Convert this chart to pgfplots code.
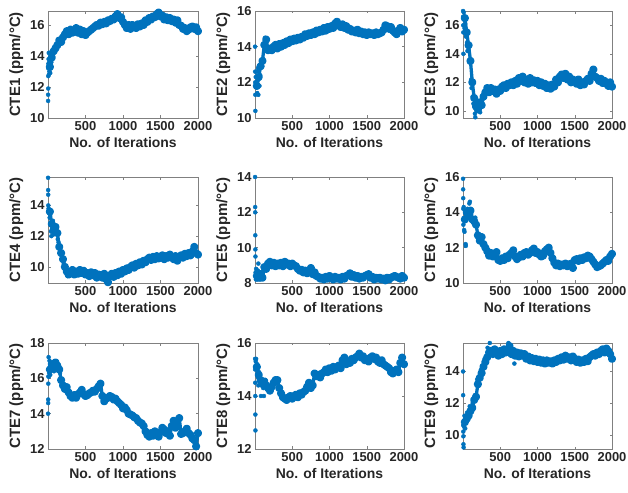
\documentclass[border=0pt]{standalone}
\usepackage{pgfplots}
\pgfplotsset{compat=1.18}
\usepackage{pgfplotstable}
\usepackage{fontspec}
\setmainfont{Liberation Sans}
\definecolor{mblue}{rgb}{0,0.447,0.741}

\pgfplotstableread{
x c1 c2 c3 c4 c5 c6 c7 c8 c9
25 13.3 11.8 16.5 13.6 8.4 13.6 16.5 15.1 10.8
50 13.9 12.3 15.5 12.8 8.3 14.0 16.8 14.8 11.0
75 14.3 12.9 14.6 12.4 8.5 13.8 16.6 14.6 11.2
100 14.5 13.2 13.5 12.6 8.3 14.1 16.9 14.45 11.5
125 14.7 14.1 12.0 12.2 8.9 13.6 16.7 14.55 11.7
150 15.0 14.4 10.9 11.3 8.8 13.5 16.5 14.4 12.2
175 14.9 13.8 10.3 10.9 9.1 13.3 15.9 14.3 12.4
200 15.2 13.9 10.1 10.5 9.2 12.7 15.6 14.2 13.2
225 15.4 13.8 10.6 10.0 9.0 12.4 15.4 14.35 13.6
250 15.6 14.0 10.4 9.7 9.15 12.6 15.5 14.5 13.9
275 15.4 14.1 11.0 9.5 8.95 12.2 15.2 14.6 14.3
300 15.7 13.9 11.3 9.6 9.1 12.0 15.0 14.6 14.6
325 15.5 14.15 11.6 9.8 9.0 11.8 14.9 14.3 14.9
350 15.6 14.0 11.3 9.5 9.15 11.55 15.05 14.1 15.2
375 15.8 14.2 11.6 9.7 8.95 11.7 14.9 13.95 15.3
400 15.5 14.1 11.4 9.55 9.2 11.5 15.1 13.9 15.1
425 15.7 14.3 11.5 9.8 9.05 11.6 15.2 13.85 15.4
450 15.4 14.2 11.2 9.6 9.1 11.75 15.35 13.95 15.2
475 15.6 14.4 11.5 9.75 8.95 11.3 15.1 14.0 15.0
500 15.35 14.3 11.4 9.5 9.1 11.25 15.0 13.9 15.3
525 15.5 14.45 11.7 9.6 9.0 11.4 15.05 14.0 15.1
550 15.6 14.35 11.8 9.4 8.95 11.3 15.15 14.05 15.4
575 15.7 14.5 11.6 9.65 8.8 11.5 15.2 13.95 15.2
600 15.8 14.4 11.9 9.45 8.7 11.4 15.3 14.1 15.3
625 15.9 14.55 11.8 9.6 8.75 11.6 15.25 14.05 15.6
650 16.0 14.5 12.0 9.3 8.6 11.7 15.4 14.15 15.1
675 15.95 14.7 11.8 9.5 8.7 11.85 15.55 14.2 15.3
700 16.15 14.6 12.1 9.45 8.55 11.5 15.7 14.35 15.0
725 16.05 14.75 11.9 9.3 8.7 11.35 15.0 14.5 15.2
750 16.2 14.65 12.3 9.55 8.85 11.45 14.7 14.3 14.95
775 16.1 14.8 12.1 9.2 8.5 11.6 14.85 14.4 15.15
800 16.3 14.7 12.4 9.0 8.6 11.5 14.9 14.85 15.0
825 16.25 14.9 12.0 9.4 8.4 11.7 15.0 14.75 15.1
850 16.4 14.8 12.2 9.55 8.35 11.75 14.95 14.8 14.8
875 16.35 14.95 11.9 9.35 8.25 11.6 14.8 14.7 14.95
900 16.55 14.85 12.3 9.6 8.3 11.7 14.85 14.85 14.7
925 16.7 15.05 12.0 9.45 8.2 11.85 14.7 14.9 14.85
950 16.45 14.9 12.15 9.7 8.35 11.95 14.6 15.0 14.65
975 16.5 15.1 11.95 9.55 8.25 11.7 14.5 14.9 14.8
1000 16.2 15.0 12.1 9.8 8.4 11.75 14.3 15.05 14.6
1025 16.0 15.15 11.8 9.7 8.3 11.6 14.35 14.95 14.75
1050 15.8 15.05 12.0 9.9 8.2 11.5 14.2 15.1 14.55
1075 16.0 15.3 11.75 9.8 8.35 11.55 14.0 15.0 14.7
1100 15.75 15.4 11.9 10.0 8.25 11.8 13.95 15.1 14.5
1125 16.0 15.2 11.6 10.1 8.3 11.9 13.9 15.15 14.7
1150 15.9 15.1 11.8 9.95 8.2 12.0 13.8 15.05 14.55
1175 15.8 15.25 11.55 10.2 8.35 11.7 13.75 15.35 14.65
1200 16.05 15.05 11.85 10.1 8.25 11.4 13.6 15.45 14.5
1225 15.9 15.15 11.7 10.3 8.4 11.15 13.5 15.2 14.7
1250 16.1 14.95 12.2 10.15 8.45 11.0 13.45 15.3 14.6
1275 16.0 15.0 12.0 10.4 8.55 11.1 13.3 15.25 14.8
1300 16.3 14.85 12.4 10.3 8.35 10.95 13.0 15.4 14.7
1325 16.2 14.9 12.55 10.5 8.45 11.05 12.8 15.35 14.9
1350 16.45 14.8 12.3 10.6 8.3 11.0 12.7 15.45 14.75
1375 16.35 14.95 12.6 10.45 8.4 11.1 12.9 15.5 15.0
1400 16.55 14.75 12.2 10.65 8.25 10.95 12.75 15.6 14.8
1425 16.5 14.85 12.4 10.5 8.35 11.05 13.0 15.45 14.9
1450 16.7 14.7 12.0 10.7 8.3 11.1 12.9 15.5 14.7
1475 16.8 14.8 12.2 10.55 8.4 10.85 12.7 15.35 14.95
1500 16.55 14.65 12.1 10.6 8.45 11.3 12.95 15.4 14.8
1525 16.6 14.8 11.9 10.75 8.5 11.35 13.2 15.3 14.6
1550 16.35 14.7 12.2 10.5 8.3 11.25 13.1 15.45 14.75
1575 16.5 14.75 11.8 10.7 8.35 11.4 12.9 15.5 14.55
1600 16.3 14.65 12.0 10.6 8.2 11.3 13.0 15.4 14.7
1625 16.45 14.8 11.85 10.8 8.3 11.45 12.75 15.45 14.6
1650 16.25 14.7 12.1 10.65 8.25 11.4 13.3 15.3 14.8
1675 16.35 14.75 12.25 10.5 8.3 11.55 13.6 15.25 14.65
1700 16.15 14.8 12.1 10.7 8.2 11.5 13.2 15.35 14.9
1725 16.3 14.95 12.6 10.4 8.25 11.35 13.3 15.2 15.0
1750 16.0 15.2 12.9 10.6 8.15 11.2 13.75 15.15 15.1
1775 15.95 15.15 12.4 10.75 8.3 11.05 12.85 15.1 15.0
1800 15.75 15.0 12.3 10.6 8.2 10.9 12.9 15.05 15.2
1825 15.8 15.1 12.1 10.85 8.3 10.95 13.0 14.9 15.1
1850 15.6 14.9 12.25 10.7 8.35 11.0 13.15 14.85 15.3
1875 15.7 14.8 11.95 10.9 8.4 11.1 12.9 14.95 15.4
1900 15.85 14.7 12.1 10.75 8.35 11.2 12.8 15.0 15.2
1925 15.9 14.9 11.9 11.0 8.3 11.3 12.6 14.9 15.45
1950 15.75 15.05 11.75 11.3 8.25 11.25 12.5 15.25 15.3
1975 15.85 14.85 12.0 10.9 8.4 11.5 12.15 15.45 15.1
2000 15.6 14.95 11.7 10.8 8.3 11.65 12.9 15.2 14.8
}\maintbl

\pgfplotsset{
  dots/.style={only marks, mark=*, mark size=2.0bp, color=mblue, mark options={draw=none, fill=mblue}},
  band/.style={mark=*, mark size=2.4bp, color=mblue, line width=3.3bp, line join=round, line cap=round, mark options={draw=none, fill=mblue}},
  cte/.style={
    width=150bp, height=106bp, scale only axis, anchor=south west,
    xmin=0, xmax=2000, xtick={500,1000,1500,2000},
    tick align=inside, major tick length=2.5bp,
    axis line style={draw=black!50, line width=0.6bp},
    tick style={draw=black!50, line width=0.5bp},
    tick label style={font=\bfseries\fontsize{13}{13}\selectfont, text=black!85},
    label style={font=\bfseries\fontsize{14}{14}\selectfont, text=black!85},
    ylabel style={font=\bfseries\fontsize{15}{15}\selectfont},
    xlabel={No. of Iterations},
    /pgf/number format/assume math mode=true,
    /pgf/number format/1000 sep={},
    clip=false,
  }
}

\begin{document}
\begin{tikzpicture}
\path[use as bounding box] (0bp,0bp) rectangle (628bp,493bp);

% Row 1
\begin{axis}[cte, at={(48bp,375bp)}, height=107bp, ymin=10, ymax=16.9, ytick={10,12,14,16}, ylabel={CTE1 (ppm/°C)}]
\addplot[band] table[x=x,y=c1]{\maintbl};
\addplot[dots] coordinates {(1,11.1)(2,11.5)(3,11.9)(4,12.7)(5,13.2)(6,13.5)(8,13.8)(10,14.2)(12,12.8)(15,13.6)(18,13.0)(22,14.2)(30,12.9)(35,13.5)(40,13.2)(45,13.6)(55,14.1)(60,14.3)(65,14.4)};
\end{axis}

\begin{axis}[cte, at={(255bp,375bp)}, width=149bp, height=107bp, ymin=10, ymax=16, ytick={10,12,14,16}, ylabel={CTE2 (ppm/°C)}]
\addplot[band] table[x=x,y=c2]{\maintbl};
\addplot[dots] coordinates {(1,14.0)(2,12.6)(3,12.0)(4,11.3)(5,10.4)(10,12.3)(15,11.8)(20,12.6)(30,11.4)(35,12.1)(40,12.8)(45,11.3)(55,12.2)(60,11.8)(70,12.4)(85,13.0)(95,12.9)(110,13.3)(135,14.5)(140,14.2)};
\end{axis}

\begin{axis}[cte, at={(463bp,375bp)}, width=149bp, height=107bp, ymin=9.5, ymax=17, ytick={10,12,14,16}, ylabel={CTE3 (ppm/°C)}]
\addplot[band] table[x=x,y=c3]{\maintbl};
\addplot[dots] coordinates {(1,17.0)(2,16.6)(3,16.0)(4,15.5)(5,14.0)(10,16.9)(15,16.0)(20,15.8)(30,16.1)(35,15.4)(40,15.2)(45,15.6)(55,14.8)(60,14.2)(65,14.5)(80,13.5)(90,13.4)(110,12.2)(115,11.6)(130,11.0)(140,10.5)(160,9.8)(165,9.55)(185,10.0)(200,10.6)(230,9.9)(240,10.3)(260,10.8)};
\end{axis}

% Row 2
\begin{axis}[cte, at={(48bp,210bp)}, ymin=8.95, ymax=15.85, ytick={10,12,14}, ylabel={CTE4 (ppm/°C)}]
\addplot[band] table[x=x,y=c4]{\maintbl};
\addplot[dots] coordinates {(1,15.8)(2,15.0)(3,14.7)(4,14.0)(8,13.8)(12,13.5)(18,13.6)(22,13.2)(30,13.4)(40,12.3)(45,12.0)(55,12.6)(60,12.9)(65,13.0)(70,12.1)(85,12.5)(90,12.3)(110,12.4)(130,11.8)(140,11.6)(160,11.0)(185,10.7)(210,10.2)(235,9.8)(260,9.4)};
\end{axis}

\begin{axis}[cte, at={(255bp,210bp)}, width=149bp, ymin=8, ymax=14, ytick={8,10,12,14}, ylabel={CTE5 (ppm/°C)}]
\addplot[band] table[x=x,y=c5]{\maintbl};
\addplot[dots] coordinates {(1,14.0)(2,12.3)(3,12.0)(4,10.7)(5,9.9)(6,9.5)(8,8.6)(12,8.2)(15,8.8)(20,8.5)(30,8.2)(40,8.7)(45,9.1)(60,8.4)(70,8.2)(90,8.6)(110,8.4)(115,8.7)};
\end{axis}

\begin{axis}[cte, at={(463bp,210bp)}, width=149bp, ymin=10, ymax=16, ytick={10,12,14,16}, ylabel={CTE6 (ppm/°C)}]
\addplot[band] table[x=x,y=c6]{\maintbl};
\addplot[dots] coordinates {(1,15.9)(2,15.3)(3,14.8)(4,14.2)(5,13.3)(10,14.3)(15,13.0)(20,12.9)(30,13.5)(35,12.2)(38,12.1)(45,13.9)(60,14.2)(70,13.7)(85,14.5)(92,14.6)(110,13.9)(140,13.4)(165,13.7)(190,12.6)(215,12.5)};
\end{axis}

% Row 3
\begin{axis}[cte, at={(48bp,44bp)}, ymin=12, ymax=18, ytick={12,14,16,18}, ylabel={CTE7 (ppm/°C)}]
\addplot[band] table[x=x,y=c7]{\maintbl};
\addplot[dots] coordinates {(1,14.0)(2,14.6)(3,14.8)(4,15.7)(5,16.1)(8,17.2)(12,16.1)(15,16.3)(20,17.0)(30,16.2)(40,16.5)(60,16.9)(80,16.4)(90,16.95)(110,16.6)(140,16.8)(160,16.3)};
\end{axis}

\begin{axis}[cte, at={(255bp,44bp)}, width=149bp, ymin=12, ymax=16, ytick={12,14,16}, ylabel={CTE8 (ppm/°C)}]
\addplot[band] table[x=x,y=c8]{\maintbl};
\addplot[dots] coordinates {(1,15.4)(2,15.0)(3,14.5)(4,14.0)(5,13.3)(6,12.7)(10,15.3)(15,15.4)(20,15.0)(30,15.2)(40,14.7)(45,14.4)(55,14.9)(65,14.5)(80,14.0)(95,14.55)(110,14.3)(120,14.0)(140,14.6)};
\end{axis}

\begin{axis}[cte, at={(463bp,44bp)}, width=149bp, ymin=9.1, ymax=15.8, ytick={10,12,14}, ylabel={CTE9 (ppm/°C)}]
\addplot[band] table[x=x,y=c9]{\maintbl};
\addplot[dots] coordinates {(1,14.0)(2,12.5)(3,10.6)(4,10.2)(5,9.9)(6,9.4)(8,9.2)(15,10.5)(20,11.2)(30,10.4)(40,10.9)(55,11.4)(70,11.2)(90,11.8)(110,11.4)(130,12.0)(160,12.5)(190,13.5)(210,13.1)(240,14.1)(260,13.8)(290,14.8)(330,15.5)(360,15.8)(610,15.8)(690,14.5)};
\end{axis}
\end{tikzpicture}
\end{document}
